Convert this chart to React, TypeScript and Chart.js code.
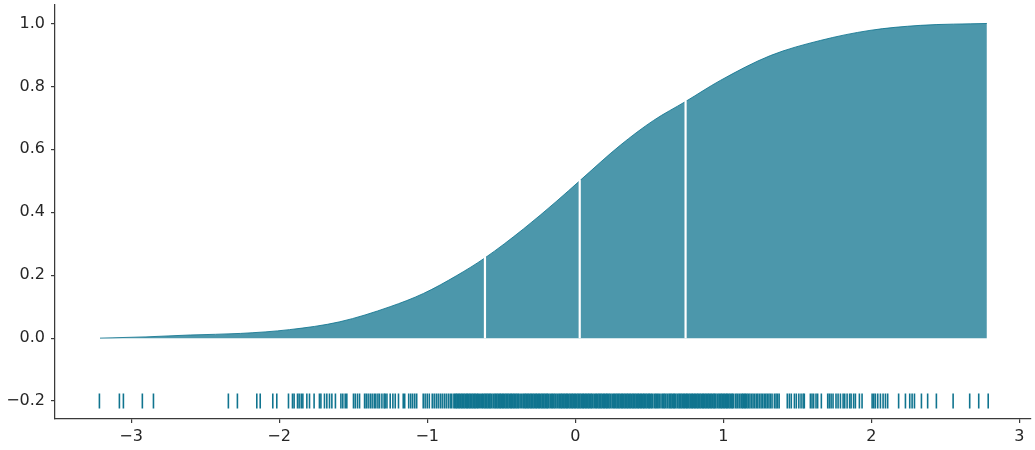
import React, { useEffect, useRef } from "react";
import { Chart, registerables } from "chart.js";

Chart.register(...registerables);

// ECDF curve
const curveX = [-3.21, -2.9, -2.6, -2.26, -1.93, -1.59, -1.25, -1.025, -0.8, -0.61, -0.35, -0.124, 0.03, 0.304, 0.529, 0.745, 0.98, 1.318, 1.655, 1.99, 2.33, 2.78];
const curveY = [0, 0.004, 0.01, 0.015, 0.027, 0.052, 0.1, 0.142, 0.199, 0.255, 0.347, 0.436, 0.5, 0.613, 0.692, 0.752, 0.819, 0.898, 0.946, 0.978, 0.994, 1.0];

// quartile separators
const quartileX = [-0.61, 0.03, 0.745];
const quartileY = [0.255, 0.5, 0.752];

// rug level
const rugLevel = -0.2;

// rug sample positions
const rugLeftTail = [-3.214, -3.079, -3.052, -2.924, -2.849, -2.343, -2.282, -2.151, -2.128, -2.043, -2.016,
  -1.937, -1.91, -1.899, -1.876, -1.865, -1.851, -1.84, -1.813, -1.795, -1.764, -1.728, -1.718, -1.694, -1.678,
  -1.66, -1.644, -1.62, -1.583, -1.57, -1.554, -1.543, -1.498, -1.486, -1.471, -1.457, -1.423, -1.412, -1.399,
  -1.385, -1.372, -1.358, -1.347, -1.333, -1.322, -1.306, -1.291];
const rugLowerMid = [-1.284, -1.272, -1.25, -1.232, -1.216, -1.194, -1.162, -1.152, -1.125, -1.111, -1.098, -1.084,
  -1.071, -1.027, -1.014, -1.0, -0.986, -0.966, -0.953, -0.939, -0.926, -0.912, -0.899, -0.885, -0.872, -0.858,
  -0.845, -0.834];
const rugCore = [-0.818, -0.807, -0.797, -0.786, -0.775, -0.764, -0.753, -0.742, -0.731, -0.721, -0.71, -0.699,
  -0.688, -0.678, -0.667, -0.657, -0.644,
  -0.63, -0.619, -0.608, -0.598, -0.587, -0.577, -0.566, -0.553,
  -0.541, -0.531, -0.52, -0.509, -0.499, -0.488, -0.477, -0.466, -0.456, -0.445, -0.434, -0.424, -0.413, -0.402,
  -0.391, -0.381, -0.366,
  -0.352, -0.341, -0.331, -0.32, -0.309, -0.298, -0.288, -0.277, -0.266, -0.256, -0.245, -0.234, -0.223, -0.213,
  -0.202, -0.192, -0.182, -0.169,
  -0.157, -0.146, -0.135, -0.122,
  -0.109, -0.098, -0.088, -0.077, -0.066, -0.056, -0.045, -0.034, -0.023, -0.013, -0.002, 0.009, 0.02, 0.03, 0.041,
  0.052, 0.062, 0.073, 0.084, 0.094, 0.105, 0.115, 0.128,
  0.14, 0.151, 0.162, 0.172, 0.183, 0.194, 0.205, 0.215, 0.226, 0.237, 0.25,
  0.262, 0.273, 0.284, 0.294, 0.305, 0.316, 0.326, 0.337, 0.348, 0.358, 0.369, 0.38, 0.391, 0.401, 0.412, 0.423,
  0.433, 0.444, 0.455, 0.465, 0.476, 0.487, 0.498, 0.508, 0.519, 0.534,
  0.546, 0.558, 0.571, 0.587, 0.598, 0.609, 0.622, 0.635, 0.645, 0.656, 0.667, 0.677, 0.69,
  0.702, 0.712, 0.723, 0.734, 0.745, 0.755, 0.766, 0.777, 0.788, 0.798, 0.809, 0.82, 0.83, 0.841, 0.852, 0.863,
  0.873, 0.884, 0.895, 0.905, 0.916, 0.927, 0.938, 0.947, 0.96,
  0.972, 0.983, 0.993, 1.004, 1.015, 1.025, 1.036, 1.047, 1.058, 1.068,
  1.084, 1.097, 1.111, 1.125, 1.135, 1.146, 1.157, 1.169];
const rugUpperMid = [1.18, 1.191, 1.201, 1.212, 1.223, 1.233, 1.244, 1.255, 1.265, 1.276, 1.287, 1.297, 1.308,
  1.318, 1.329, 1.345, 1.356, 1.366, 1.377, 1.432, 1.446, 1.459, 1.48, 1.493, 1.51];
const rugRightTail = [1.525, 1.539, 1.547, 1.588, 1.599, 1.61, 1.626, 1.637, 1.662, 1.705, 1.716, 1.728, 1.741,
  1.761, 1.775, 1.791, 1.809, 1.82, 1.836, 1.853, 1.863, 1.88, 1.892, 1.919, 1.937, 2.005, 2.016, 2.027, 2.043,
  2.061, 2.079, 2.095, 2.11, 2.184, 2.23, 2.259, 2.275, 2.291, 2.338, 2.38, 2.439, 2.552, 2.664, 2.725, 2.789];

// axes
const xTicks = [-3, -2, -1, 0, 1, 2, 3];
const yTicks = [-0.2, 0, 0.2, 0.4, 0.6, 0.8, 1.0];
const xRange = [-3.514, 3.074];
const yRange = [-0.257, 1.06];

const BASE = "16,116,143";
const FONT = { family: "'DejaVu Sans', sans-serif", size: 16 };
const TEXT = "#262626";
const SPINE = "#3a3a3a";

const minus = (s: string) => s.replace("-", "\u2212");

const rugDataset = (xs: number[], width: number) => ({
  data: xs.map((x) => ({ x, y: rugLevel })),
  showLine: false,
  pointStyle: "line",
  rotation: 90,
  pointRadius: 7.5,
  pointHoverRadius: 7.5,
  pointBorderWidth: width,
  borderWidth: width,
  pointBorderColor: `rgb(${BASE})`,
  borderColor: `rgb(${BASE})`,
  order: 1,
});

export default function App() {
  const ref = useRef<HTMLCanvasElement | null>(null);
  useEffect(() => {
    if (!ref.current) return;
    const datasets: any[] = [
      {
        data: curveX.map((x, i) => ({ x, y: curveY[i] })),
        showLine: true,
        fill: "origin",
        backgroundColor: `rgba(${BASE},0.75)`,
        borderColor: `rgba(${BASE},0.85)`,
        borderWidth: 1,
        pointRadius: 0,
        cubicInterpolationMode: "monotone",
        order: 3,
      },
      ...quartileX.map((q, i) => ({
        data: [{ x: q, y: 0 }, { x: q, y: quartileY[i] + 0.004 }],
        showLine: true,
        fill: false,
        borderColor: "#ffffff",
        borderWidth: 2.2,
        pointRadius: 0,
        borderCapStyle: "butt",
        order: 2,
      })),
      rugDataset([...rugLeftTail, ...rugLowerMid, ...rugUpperMid, ...rugRightTail], 1.6),
      rugDataset(rugCore, 2.1),
    ];
    const chart = new Chart(ref.current, {
      type: "scatter",
      data: { datasets },
      options: {
        animation: false,
        responsive: false,
        maintainAspectRatio: false,
        layout: { padding: { top: 0, right: 0, left: 0, bottom: 0 } },
        plugins: { legend: { display: false }, tooltip: { enabled: false } },
        scales: {
          x: {
            type: "linear",
            min: xRange[0],
            max: xRange[1],
            afterBuildTicks: (s: any) => {
              s.ticks = xTicks.map((v) => ({ value: v }));
            },
            afterFit: (s: any) => {
              s.height = 31;
              s.paddingLeft = 0;
              s.paddingRight = 0;
            },
            ticks: {
              font: FONT,
              color: TEXT,
              padding: 4,
              maxRotation: 0,
              callback: (v: any) => minus(String(v)),
            },
            grid: { drawOnChartArea: false, drawTicks: true, tickLength: 4, color: SPINE, lineWidth: 1.2 },
            border: { display: true, color: SPINE, width: 1.25 },
          },
          y: {
            type: "linear",
            min: yRange[0],
            max: yRange[1],
            afterBuildTicks: (s: any) => {
              s.ticks = yTicks.map((v) => ({ value: v }));
            },
            afterFit: (s: any) => {
              s.width = 55;
              s.paddingTop = 0;
              s.paddingBottom = 0;
            },
            ticks: {
              font: FONT,
              color: TEXT,
              padding: 6,
              callback: (v: any) => minus(Number(v).toFixed(1)),
            },
            grid: { drawOnChartArea: false, drawTicks: true, tickLength: 4, color: SPINE, lineWidth: 1.2 },
            border: { display: true, color: SPINE, width: 1.25 },
          },
        },
      } as any,
    });
    return () => chart.destroy();
  }, []);
  return (
    <div style={{ position: "absolute", left: 0, top: 0, width: 1035, height: 450, background: "#fff", overflow: "hidden" }}>
      <canvas
        ref={ref}
        width={1040}
        height={455}
        style={{ position: "absolute", left: 0, top: -5, width: 1040, height: 455, display: "block" }}
      />
    </div>
  );
}
